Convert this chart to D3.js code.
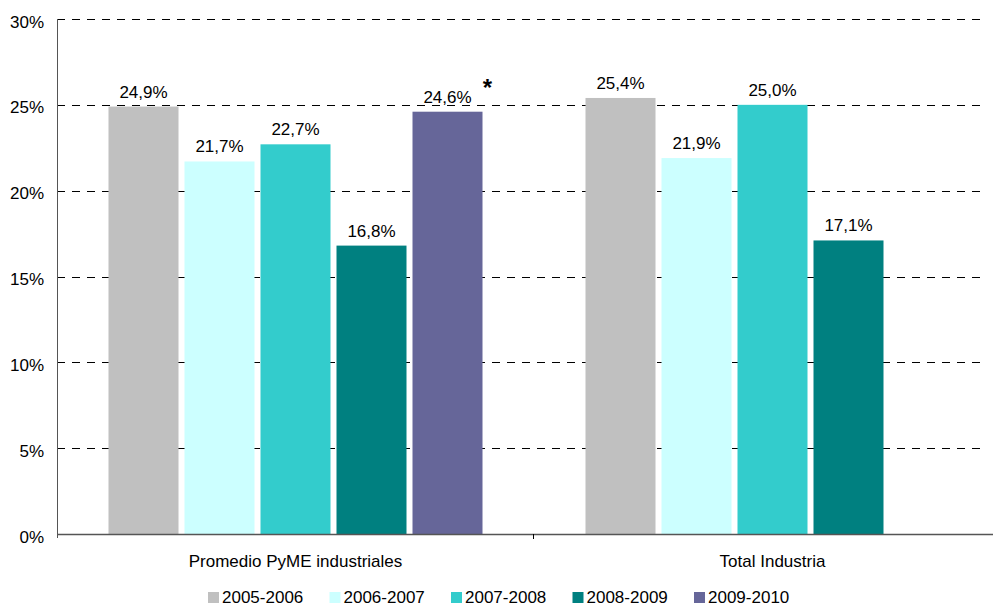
<!DOCTYPE html>
<html>
<head>
<meta charset="utf-8">
<script src="https://cdn.jsdelivr.net/npm/d3@7"></script>
<style>
  html, body { margin: 0; padding: 0; background: #fff; }
  svg { display: block; font-family: "Liberation Sans", Arial, sans-serif; }
</style>
</head>
<body>
<svg id="chart" width="993" height="607"></svg>
<script>
const categories = ["Promedio PyME industriales", "Total Industria"];
const seriesNames = ["2005-2006", "2006-2007", "2007-2008", "2008-2009", "2009-2010"];
const s2005 = [24.9, 25.4];
const s2006 = [21.7, 21.9];
const s2007 = [22.7, 25.0];
const s2008 = [16.8, 17.1];
const s2009 = [24.6, null];
const seriesValues = [s2005, s2006, s2007, s2008, s2009];
const seriesColors = ["#C0C0C0", "#CCFFFF", "#33CCCC", "#008080", "#666699"];
const yTicks = [0, 5, 10, 15, 20, 25, 30];
const notes = [{ series: "2009-2010", category: "Promedio PyME industriales", text: "*" }];

(function () {
const svg = d3.select("#chart");
const mLeft = 57, mBottom = 534, mTop = 19;
const plotRight = 987;     // visible end of gridlines
const catStep = 477;       // width of each category slot

const x0 = d3.scaleBand().domain(categories).range([mLeft, mLeft + catStep * categories.length]).padding(0);
const x1 = d3.scaleBand().domain(seriesNames).range([51.5, 425.5]).paddingInner(6 / 76).paddingOuter(0);
const y = d3.scaleLinear().domain([0, 30]).range([mBottom, mTop]);

const fmt = v => d3.format(".1f")(v).replace(".", ",") + "%";
const fs = 17;

// gridlines
svg.append("g").selectAll("line").data(yTicks.filter(d => d > 0)).join("line")
  .attr("x1", mLeft).attr("x2", plotRight)
  .attr("y1", d => Math.round(y(d)) + 0.5).attr("y2", d => Math.round(y(d)) + 0.5)
  .attr("stroke", "#000").attr("stroke-width", 1).attr("stroke-dasharray", "8,7");

// y tick labels
svg.append("g").selectAll("text").data(yTicks).join("text")
  .attr("x", 44).attr("y", d => y(d)).attr("dy", "0.5em")
  .attr("text-anchor", "end").attr("font-size", fs).attr("fill", "#000")
  .text(d => d + "%");

// bars
const data = [];
seriesNames.forEach((s, i) => categories.forEach((c, j) => {
  const v = seriesValues[i][j];
  if (v != null) data.push({ s, c, v, color: seriesColors[i] });
}));

svg.append("g").selectAll("rect").data(data).join("rect")
  .attr("x", d => x0(d.c) + x1(d.s))
  .attr("width", x1.bandwidth())
  .attr("y", d => y(d.v))
  .attr("height", d => y(0) - y(d.v))
  .attr("fill", d => d.color);

// value labels
svg.append("g").selectAll("text").data(data).join("text")
  .attr("x", d => x0(d.c) + x1(d.s) + x1.bandwidth() / 2)
  .attr("y", d => y(d.v) - 9)
  .attr("text-anchor", "middle").attr("font-size", fs).attr("fill", "#000")
  .text(d => fmt(d.v));

// note asterisk
notes.forEach(n => {
  const i = seriesNames.indexOf(n.series), j = categories.indexOf(n.category);
  const v = seriesValues[i][j];
  svg.append("text")
    .attr("x", x0(n.category) + x1(n.series) + x1.bandwidth() + 5)
    .attr("y", y(v) - 16)
    .attr("text-anchor", "middle").attr("font-size", 24).attr("font-weight", "bold")
    .text(n.text);
});

// axes
const axisColor = "#555";
svg.append("line").attr("x1", mLeft + 0.5).attr("x2", mLeft + 0.5).attr("y1", mTop).attr("y2", mBottom + 4)
  .attr("stroke", axisColor).attr("stroke-width", 1);
svg.append("line").attr("x1", mLeft).attr("x2", 993).attr("y1", mBottom + 0.5).attr("y2", mBottom + 0.5)
  .attr("stroke", axisColor).attr("stroke-width", 1.5);
// category separator ticks
svg.append("g").selectAll("line").data(categories.slice(1)).join("line")
  .attr("x1", d => x0(d) - 0.5).attr("x2", d => x0(d) - 0.5)
  .attr("y1", mBottom).attr("y2", mBottom + 5)
  .attr("stroke", "#000").attr("stroke-width", 1);

// category labels
svg.append("g").selectAll("text").data(categories).join("text")
  .attr("x", d => x0(d) + x0.bandwidth() / 2)
  .attr("y", 567)
  .attr("text-anchor", "middle").attr("font-size", fs).attr("fill", "#000")
  .text(d => d);

// legend
const legendX0 = 208, legendStep = 121.5;
const lg = svg.append("g").selectAll("g").data(seriesNames).join("g")
  .attr("transform", (d, i) => `translate(${legendX0 + i * legendStep},592)`);
lg.append("rect").attr("width", 11).attr("height", 11).attr("fill", (d, i) => seriesColors[i]);
lg.append("text").attr("x", 14).attr("y", 11).attr("font-size", fs).attr("fill", "#000").text(d => d);
})();
</script>
</body>
</html>
